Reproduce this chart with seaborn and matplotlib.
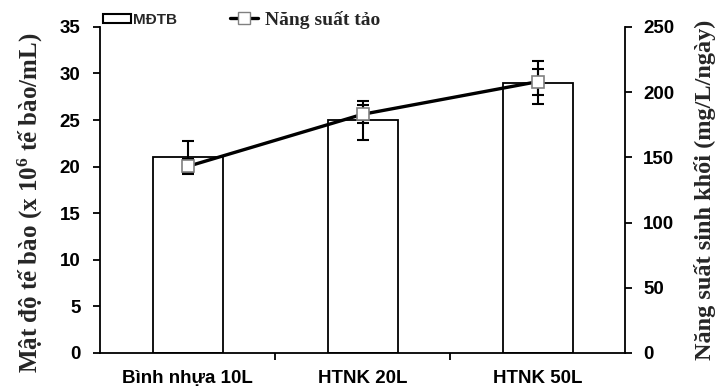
import numpy as np
import matplotlib
matplotlib.use("Agg")
import matplotlib.pyplot as plt
import seaborn as sns
from matplotlib.patches import Patch
from matplotlib.lines import Line2D

# Datos
categorias = ["Bình nhựa 10L", "HTNK 20L", "HTNK 50L"]
mat_do = [21, 25, 29]            # MĐTB (x10^6 tế bào/mL)
mat_do_err = [1.7, 2.1, 2.3]
nang_suat = [143, 183, 208]      # mg/L/ngày
nang_suat_err = [6, 7, 10]

sns.set_theme(style="white")
plt.rcParams["mathtext.default"] = "regular"

SANS = "Liberation Sans"
SERIF = "Liberation Serif"

fig = plt.figure(figsize=(7.21, 3.91), dpi=100)
ax = fig.add_axes([0.1387, 0.0972, 0.7282, 0.834])

# --- Barras ---
sns.barplot(x=categorias, y=mat_do, ax=ax, color="white", edgecolor="black",
            linewidth=1.3, width=0.4, errorbar=None, zorder=2)
pos = np.arange(len(categorias))
ax.errorbar(pos, mat_do, yerr=mat_do_err, fmt="none", ecolor="black",
            elinewidth=1.5, capsize=4, capthick=1.5, zorder=3)

ax.set_ylim(0, 35)
ax.set_yticks(np.arange(0, 36, 5))
ax.set_xlim(-0.5, 2.5)
ax.set_xticks(pos)
ax.set_xticklabels(categorias)
ax.set_xticks([0.5, 1.5], minor=True)
ax.tick_params(axis="x", which="major", length=0, pad=12)
ax.tick_params(axis="x", which="minor", direction="out", length=5, width=1.3,
               color="black", bottom=True)
ax.tick_params(axis="y", direction="out", length=5, width=1.3, color="black",
               left=True, pad=9)
for s in ["top", "right"]:
    ax.spines[s].set_visible(False)
for s in ["left", "bottom"]:
    ax.spines[s].set_color("black")
    ax.spines[s].set_linewidth(1.3)

ax.set_ylabel("Mật độ tế bào (x 10$^6$ tế bào/mL)", fontsize=18,
              fontweight="bold", family=SERIF, labelpad=12)
ax.yaxis.set_label_coords(-0.105, 0.46)

# --- Linea (eje secundario) ---
ax2 = ax.twinx()
ax2.errorbar(pos, nang_suat, yerr=nang_suat_err, fmt="none", ecolor="black",
             elinewidth=1.5, capsize=4, capthick=1.5, zorder=3)
sns.lineplot(x=pos, y=nang_suat, ax=ax2, color="black", linewidth=2.4,
             marker="s", markersize=9, markerfacecolor="white",
             markeredgecolor="#808080", markeredgewidth=1.2, zorder=4)
ax2.set_ylim(0, 250)
ax2.set_yticks(np.arange(0, 251, 50))
ax2.tick_params(axis="y", direction="out", length=5, width=1.3, color="black",
                right=True, pad=8)
for s in ["top", "left", "bottom"]:
    ax2.spines[s].set_visible(False)
ax2.spines["right"].set_color("black")
ax2.spines["right"].set_linewidth(1.3)
ax2.set_ylabel("Năng suất sinh khối (mg/L/ngày)", fontsize=17.5,
               fontweight="bold", family=SERIF, labelpad=14)

for lab in ax.get_xticklabels() + ax.get_yticklabels() + ax2.get_yticklabels():
    lab.set_fontfamily(SANS)
    lab.set_fontweight("bold")
    lab.set_fontsize(13.5)
    lab.set_color("black")

# --- Leyenda ---
h1 = Patch(facecolor="white", edgecolor="black", linewidth=1.5)
fig.legend(handles=[h1], labels=["MĐTB"], loc="center left",
           bbox_to_anchor=(103 / 721, 1 - 20 / 391), frameon=False,
           borderpad=0, borderaxespad=0, handlelength=1.8, handleheight=0.6,
           handletextpad=0.15,
           prop={"family": SANS, "weight": "bold", "size": 11})
h2 = Line2D([], [], color="black", linewidth=2.4, marker="s", markersize=8,
            markerfacecolor="white", markeredgecolor="#808080")
fig.legend(handles=[h2], labels=["Năng suất tảo"], loc="center left",
           bbox_to_anchor=(230 / 721, 1 - 20 / 391), frameon=False,
           borderpad=0, borderaxespad=0, handlelength=1.45,
           handletextpad=0.35,
           prop={"family": SERIF, "weight": "bold", "size": 14})

fig.savefig("out.png", dpi=100)
